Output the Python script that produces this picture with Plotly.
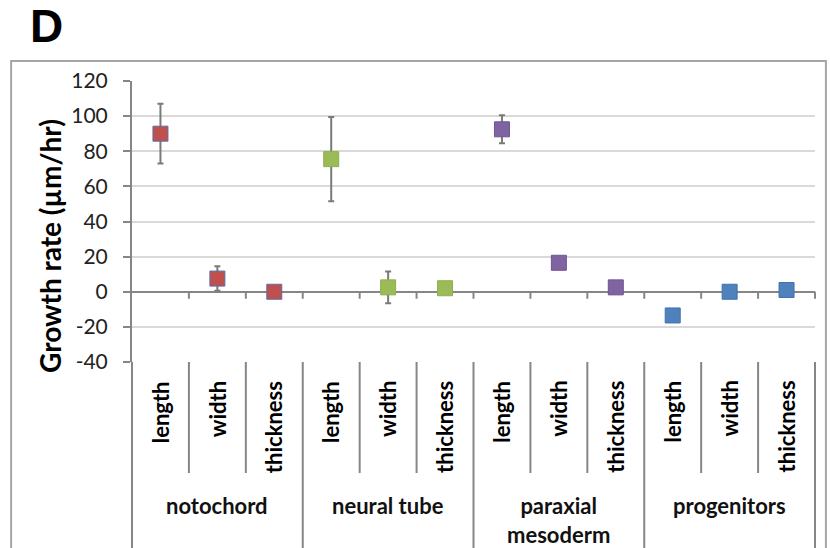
import plotly.graph_objects as go

# Growth rates (µm/hr) by tissue and dimension
groups = ["notochord", "neural tube", "paraxial<br>mesoderm", "progenitors"]
measures = ["length", "width", "thickness"]
colors = ["#C0504D", "#9BBB59", "#8064A2", "#4F81BD"]
edge_colors = ["#5A6FA8", "#8FAE4E", "#6E5492", "#3F71AD"]

notochord = [90, 7.5, 0]
neural_tube = [75.5, 2.5, 2]
paraxial_mesoderm = [92.5, 16.5, 2.5]
progenitors = [-13.5, 0, 1]

notochord_err = [17, 7, 0]
neural_tube_err = [24, 9, 0]
paraxial_mesoderm_err = [8, 0, 0]
progenitors_err = [0, 0, 0]

y_ticks = [-40, -20, 0, 20, 40, 60, 80, 100, 120]
y_tick_text = ["-40", "-20", "0", "20", "40", "60", "80", "100", "120"]

values = [notochord, neural_tube, paraxial_mesoderm, progenitors]
errors = [notochord_err, neural_tube_err, paraxial_mesoderm_err, progenitors_err]

FONT = "Lato"
AXIS_GRAY = "#868686"

fig = go.Figure()
n_meas = len(measures)
for g, (vals, errs) in enumerate(zip(values, errors)):
    xs = [g * n_meas + m for m in range(n_meas)]
    fig.add_trace(go.Scatter(
        x=xs, y=vals, mode="markers",
        marker=dict(symbol="square", size=15, color=colors[g],
                    line=dict(color=edge_colors[g], width=1)),
        error_y=dict(type="data", array=errs, visible=True,
                     color="#7a7a7a", thickness=2, width=3),
        showlegend=False, cliponaxis=False,
    ))

n_cat = len(groups) * n_meas
shapes = []
annotations = []

# short ticks below the zero line at every category boundary
for i in range(1, n_cat):
    shapes.append(dict(type="line", xref="x", yref="y", ysizemode="pixel",
                       yanchor=0, x0=i - 0.5, x1=i - 0.5, y0=0, y1=-7,
                       line=dict(color=AXIS_GRAY, width=2)))
shapes.append(dict(type="line", xref="paper", yref="y", ysizemode="pixel",
                   yanchor=0, x0=1, x1=1, y0=0, y1=-7,
                   line=dict(color=AXIS_GRAY, width=2)))

# category table dividers below the plot
for i in range(1, n_cat):
    is_group = i % n_meas == 0
    shapes.append(dict(type="line", xref="x", yref="paper",
                       x0=i - 0.5, x1=i - 0.5, y0=0,
                       y1=-0.75 if is_group else -0.395,
                       line=dict(color=AXIS_GRAY, width=2)))
for xp in (0, 1):
    shapes.append(dict(type="line", xref="paper", yref="paper",
                       x0=xp, x1=xp, y0=0, y1=-0.75,
                       line=dict(color=AXIS_GRAY, width=2)))

# chart area frame
shapes.append(dict(type="rect", xref="paper", yref="paper",
                   x0=-0.177, x1=1.016, y0=-0.8, y1=1.071,
                   line=dict(color="#a6a6a6", width=2), layer="below"))

# rotated dimension labels
for g in range(len(groups)):
    for m, name in enumerate(measures):
        annotations.append(dict(
            x=g * n_meas + m, xref="x", y=-0.06, yref="paper",
            text="<b>" + name + "</b>", textangle=-90, showarrow=False,
            xanchor="center", yanchor="top",
            font=dict(family=FONT, size=22, color="#000000", weight=900)))
    annotations.append(dict(
        x=g * n_meas + 1, xref="x", y=-0.455, yref="paper",
        text=groups[g], showarrow=False, xanchor="center", yanchor="top",
        font=dict(family=FONT, size=22, color="#111111", weight="bold")))

# axis title and panel letter
annotations.append(dict(
    x=-0.12, xref="paper", y=0.413, yref="paper",
    text="Growth rate (µm/hr)", textangle=-90, showarrow=False,
    xanchor="center", yanchor="middle",
    font=dict(family=FONT, size=28, color="#000000", weight="bold")))
annotations.append(dict(
    x=-0.153, xref="paper", y=1.295, yref="paper", text="D",
    showarrow=False, xanchor="left", yanchor="top",
    font=dict(family="Liberation Sans", size=46, color="#000000",
              weight="bold")))

fig.update_layout(
    width=830, height=548,
    margin=dict(l=132, r=15, t=81, b=186),
    paper_bgcolor="white", plot_bgcolor="white",
    font=dict(family=FONT),
    shapes=shapes, annotations=annotations,
    xaxis=dict(range=[-0.5, n_cat - 0.5], showticklabels=False,
               showgrid=False, zeroline=False, showline=False, ticks=""),
    yaxis=dict(range=[y_ticks[0], y_ticks[-1]], tickvals=y_ticks,
               ticktext=y_tick_text,
               showgrid=True, gridcolor="#d9d9d9", gridwidth=1.5,
               zeroline=True, zerolinecolor=AXIS_GRAY, zerolinewidth=2,
               showline=True, linecolor=AXIS_GRAY, linewidth=2,
               ticks="outside", ticklen=7, tickcolor=AXIS_GRAY, tickwidth=2,
               ticklabelstandoff=11,
               tickfont=dict(family=FONT, size=21, color="#222222")),
)

fig.write_html("out.html")
